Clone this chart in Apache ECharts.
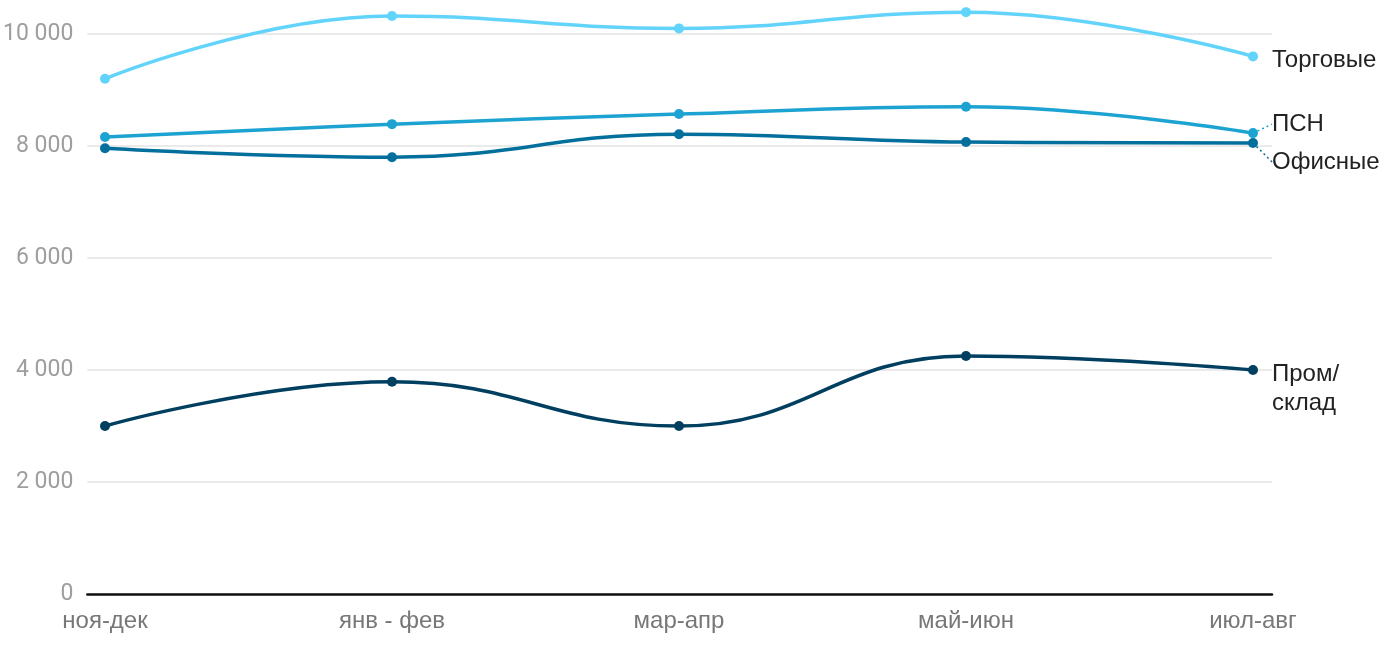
<!DOCTYPE html>
<html>
<head>
<meta charset="utf-8">
<script src="https://cdn.jsdelivr.net/npm/echarts@6/dist/echarts.min.js"></script>
<style>html,body{margin:0;padding:0;background:#fff}#c{width:1400px;height:650px}</style>
</head>
<body>
<div id="c"></div>
<script>
const categories = ['ноя-дек', 'янв - фев', 'мар-апр', 'май-июн', 'июл-авг'];
const seriesNames = ['Торговые', 'ПСН', 'Офисные', 'Пром/\nсклад'];
const torgovye = [9200, 10320, 10100, 10390, 9600];
const psn = [8160, 8390, 8570, 8700, 8230];
const ofisnye = [7960, 7800, 8210, 8070, 8055];
const promsklad = [3000, 3790, 3000, 4250, 4000];
const yTicks = [0, 2000, 4000, 6000, 8000, 10000];

const colors = ['#62d4fb', '#1da3d2', '#036f9c', '#013f61'];
const values = [torgovye, psn, ofisnye, promsklad];
const labelDy = [4, -9, 19, 19];
const labelFont = 'Liberation Sans, Arial, sans-serif';

const chart = echarts.init(document.getElementById('c'));
const series = values.map((vals, si) => ({
  type: 'line',
  name: seriesNames[si],
  xAxisIndex: 1,
  yAxisIndex: 1,
  smooth: 0.45,
  clip: false,
  symbol: 'circle',
  symbolSize: 10,
  lineStyle: { width: 3.5, color: colors[si] },
  itemStyle: { color: colors[si] },
  z: 10 - si,
  label: {
    show: false,
    position: 'right',
    distance: 14,
    color: '#222',
    fontSize: 24,
    lineHeight: 29,
    fontFamily: labelFont,
    formatter: seriesNames[si]
  },
  labelLine: {
    show: si === 1 || si === 2,
    lineStyle: { color: colors[si], type: [2, 3], width: 1.5 }
  },
  labelLayout: { dy: labelDy[si] },
  data: vals.map((v, i) => i === vals.length - 1 ? { value: v, label: { show: true } } : v)
}));

chart.setOption({
  animation: false,
  grid: [
    { left: 87, right: 128, top: 34, bottom: 56 },
    { left: 105, right: 147, top: 34, bottom: 56 }
  ],
  xAxis: [
    {
      type: 'value', gridIndex: 0, min: 0, max: 1,
      axisLine: { show: true, lineStyle: { color: '#111', width: 2.5 } },
      axisTick: { show: false }, axisLabel: { show: false }, splitLine: { show: false }
    },
    {
      type: 'category', gridIndex: 1, data: categories, boundaryGap: false,
      axisLine: { show: false }, axisTick: { show: false }, splitLine: { show: false },
      axisLabel: { color: '#777', fontSize: 24, fontFamily: labelFont, margin: 15 }
    }
  ],
  yAxis: [
    {
      type: 'value', gridIndex: 0, min: yTicks[0], max: yTicks[yTicks.length - 1], interval: 2000,
      axisLine: { show: false }, axisTick: { show: false },
      axisLabel: {
        color: '#9e9e9e', fontSize: 23, fontFamily: 'Roboto, sans-serif', margin: 14,
        formatter: v => v.toLocaleString('ru-RU').replace(/\s/g, ' ')
      },
      splitLine: { lineStyle: { color: '#e3e3e3', width: 1.5 } }
    },
    {
      type: 'value', gridIndex: 1, min: 0, max: 10000, interval: 2000, show: false,
      splitLine: { show: false }
    }
  ],
  series: series
});
</script>
</body>
</html>
